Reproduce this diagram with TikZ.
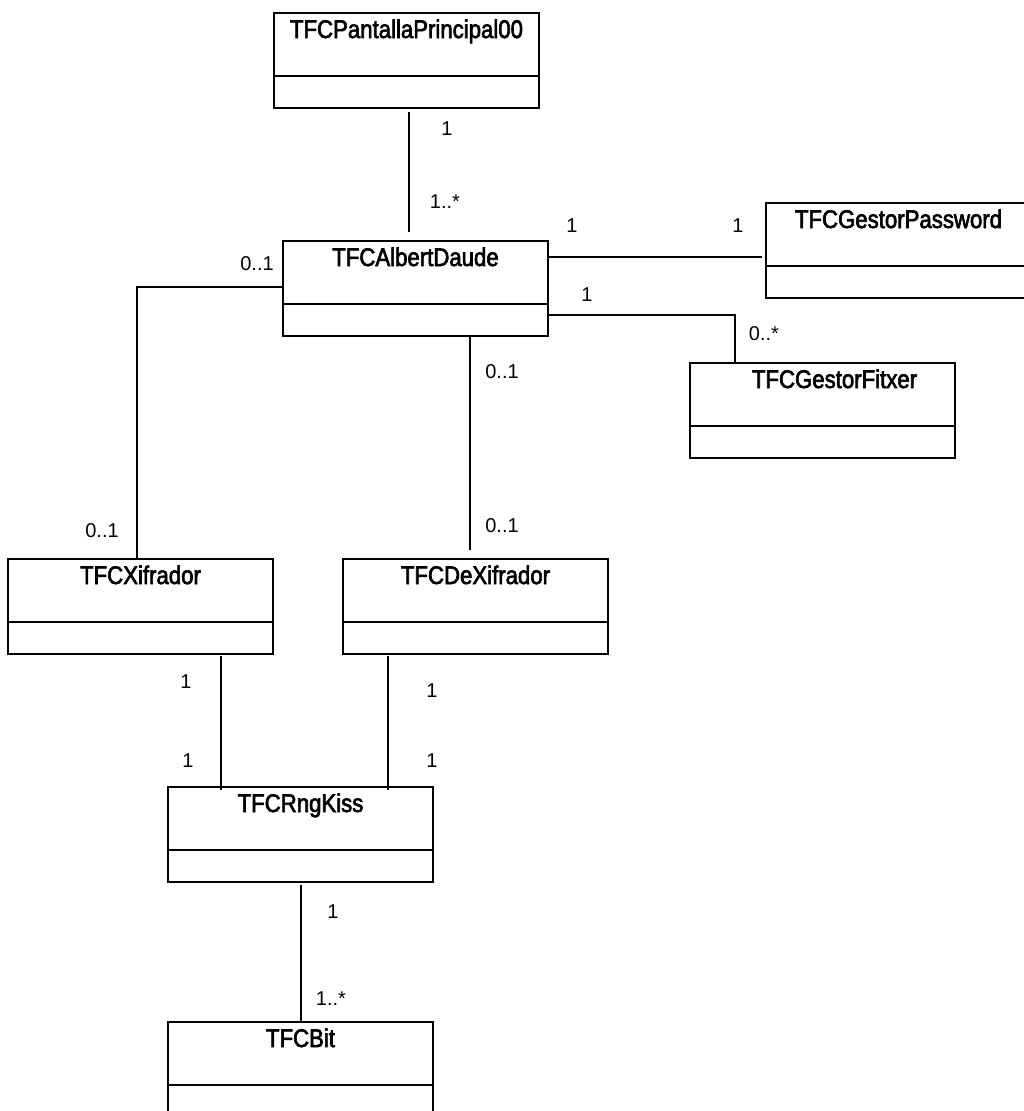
\documentclass[tikz,border=0pt]{standalone}
\usepackage{fontspec}
\setmainfont{Liberation Sans}
\newfontfamily\clsfont[FakeStretch=0.87,FakeBold=0.8]{Liberation Sans}
\newfontfamily\lblfont{Liberation Sans}

\tikzset{
  clsbox/.style={draw, line width=2pt, rectangle, inner sep=0pt, outer sep=0pt,
                 minimum width=265pt, minimum height=95pt, anchor=north west},
  boxline/.style={line width=2pt},
  clsname/.style={anchor=base, inner sep=0pt, font=\clsfont\fontsize{25.5}{30}\selectfont},
  assoc/.style={line width=2pt},
  mult/.style={anchor=base, inner sep=0pt, font=\lblfont\fontsize{20}{24}\selectfont},
}

% UML class: [name x-offset] id, left x, top y, class name
\newcommand\umlclass[5][0]{%
  \node[clsbox] (#2) at (#3,#4) {};
  \draw[boxline] ([yshift=-63pt]#2.north west) -- ([yshift=-63pt]#2.north east);
  \node[clsname] (#2-name) at ([xshift=#1pt,yshift=-25pt]#2.north) {\addfontfeature{FakeBold=2.5}#5};
}

\begin{document}
\begin{tikzpicture}[x=1pt,y=-1pt]
\useasboundingbox (0,0) rectangle (1024,1111);
\clip (0,0) rectangle (1024,1111);

% classes
\umlclass{pp}{274}{13}{TFCPantallaPrincipal00}
\umlclass{ad}{283}{241}{TFCAlbertDaude}
\umlclass[0]{gp}{766}{203}{TFCGestorPassword}
\umlclass[12]{gf}{690}{363}{TFCGestorFitxer}
\umlclass{xi}{8}{559}{TFCXifrador}
\umlclass{dx}{343}{559}{TFCDeXifrador}
\umlclass{rk}{168}{787}{TFCRngKiss}
\umlclass{bit}{168}{1022}{TFCBit}

% associations
\draw[assoc, shorten <=4pt, shorten >=9pt]
  ([xshift=2.5pt]pp.south) -- ([xshift=2.5pt]pp.south |- ad.north);
\draw[assoc, shorten <=4pt]
  ([yshift=-6.5pt]gp.west) -- ([yshift=-6.5pt]gp.west -| ad.east);
\draw[assoc]
  ([yshift=-26.5pt]ad.east) -| ([xshift=-87.5pt]gf.north);
\draw[assoc]
  ([yshift=1.5pt]ad.west) -| ([xshift=-3.5pt]xi.north);
\draw[assoc, shorten >=9pt]
  ([xshift=54pt]ad.south) -- ([xshift=54pt]ad.south |- dx.north);
\draw[assoc, shorten <=2pt, shorten >=-3pt]
  ([xshift=80.5pt]xi.south) -- ([xshift=80.5pt]xi.south |- rk.north);
\draw[assoc, shorten <=2pt, shorten >=-3pt]
  ([xshift=-87.5pt]dx.south) -- ([xshift=-87.5pt]dx.south |- rk.north);
\draw[assoc, shorten <=3pt]
  (rk.south) -- (rk.south |- bit.north);

% multiplicities
\node[mult] (m1)  at (447,135)  {1};
\node[mult] (m2)  at (445,208)  {1..*};
\node[mult] (m3)  at (257,270)  {0..1};
\node[mult] (m4)  at (572,232)  {1};
\node[mult] (m5)  at (738,232)  {1};
\node[mult] (m6)  at (587,301)  {1};
\node[mult] (m7)  at (764,340)  {0..*};
\node[mult] (m8)  at (502,378)  {0..1};
\node[mult] (m9)  at (502,532)  {0..1};
\node[mult] (m10) at (102,537)  {0..1};
\node[mult] (m11) at (186,688)  {1};
\node[mult] (m12) at (188,767)  {1};
\node[mult] (m13) at (432,697)  {1};
\node[mult] (m14) at (432,767)  {1};
\node[mult] (m15) at (333,918)  {1};
\node[mult] (m16) at (331,1005) {1..*};
\end{tikzpicture}
\end{document}
